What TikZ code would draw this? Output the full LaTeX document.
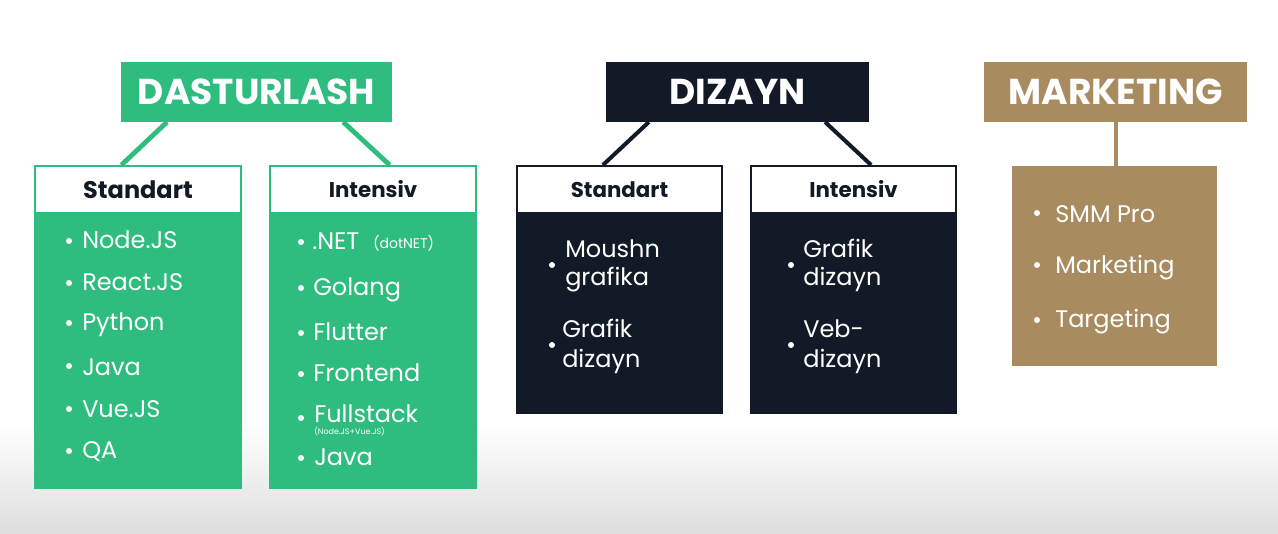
\documentclass[tikz,border=0pt]{standalone}
\usepackage{fontspec}
\setmainfont{Poppins}
\usetikzlibrary{calc,fit}
\definecolor{grn}{HTML}{2EBD7F}
\definecolor{nav}{HTML}{111A26}
\definecolor{gld}{HTML}{A88B5E}
\begin{document}
\begin{tikzpicture}[x=0.75pt,y=-0.75pt,
  box/.style={rectangle, inner sep=0pt, outer sep=0pt},
  item/.style={anchor=base west, inner sep=0pt, text=white, font=\fontsize{18}{20}\selectfont},
  small/.style={anchor=base west, inner sep=0pt, text=white, font=\fontsize{10.5}{11}\selectfont},
  tiny/.style={anchor=base west, inner sep=0pt, text=white, font=\fontsize{6}{6.5}\selectfont},
  bul/.style={circle, fill=white, inner sep=0pt, minimum size=4.5pt},
  hdr/.style={font=\fontsize{18}{20}\selectfont\bfseries, text=nav, inner sep=0pt},
  dhdr/.style={font=\fontsize{16}{18}\selectfont\bfseries, text=nav, inner sep=0pt},
  ttl/.style={font=\fontsize{27}{29}\selectfont\bfseries, text=white, inner sep=0pt},
  gline/.style={grn, line width=3.6pt},
  nline/.style={nav, line width=3pt},
  mline/.style={gld, line width=3pt},
]
\useasboundingbox (0,0) rectangle (1278,533);
\fill[white] (0,0) rectangle (1278,533);
\shade[top color=white, bottom color=black!13] (0,425) rectangle (1278,533);

% ---------- DASTURLASH ----------
\node[box, fill=grn, fit={(121,62)(392,122)}] (dast) {};
\node[ttl] (dastT) at (dast.center) {DASTURLASH};
\node[box, fill=grn, fit={(34,165)(242,489)}] (gs) {};
\node[box, fill=grn, fit={(269,165)(477,489)}] (gi) {};
\draw[gline] ($(dast.south west)!0.17!(dast.south east)$) -- ($(gs.north west)!0.42!(gs.north east)$);
\draw[gline] ($(dast.south west)!0.82!(dast.south east)$) -- ($(gi.north west)!0.58!(gi.north east)$);
\node[box, fill=white, draw=grn, line width=2pt, fit={(35,166)(241,213)}] (gsh) {};
\node[box, fill=white, draw=grn, line width=2pt, fit={(270,166)(476,213)}] (gih) {};
\node[hdr] (gshT) at (gsh.center) {Standart};
\node[dhdr] (gihT) at (gih.center) {Intensiv};

\node[bul] (gb1) at (69,241) {}; \node[item] (gt1) at (82,248) {Node.JS};
\node[bul] (gb2) at (69,283) {}; \node[item] (gt2) at (82,290) {React.JS};
\node[bul] (gb3) at (69,323) {}; \node[item] (gt3) at (82,330) {Python};
\node[bul] (gb4) at (69,366) {}; \node[item] (gt4) at (82,375) {Java};
\node[bul] (gb5) at (69,409) {}; \node[item] (gt5) at (82,417) {Vue.JS};
\node[bul] (gb6) at (69,451) {}; \node[item] (gt6) at (82,458) {QA};

\node[bul] (ib1) at (301,242) {}; \node[item] (it1) at (312,249) {.NET};
\node[small] (it1s) at (373,248) {(dotNET)};
\node[bul] (ib2) at (301,288) {}; \node[item] (it2) at (313,295) {Golang};
\node[bul] (ib3) at (301,333) {}; \node[item] (it3) at (313,340) {Flutter};
\node[bul] (ib4) at (301,374) {}; \node[item] (it4) at (313,381) {Frontend};
\node[bul] (ib5) at (301,418) {}; \node[item] (it5) at (314,422) {Fullstack};
\node[tiny] (it5s) at (314,434) {(Node.JS+Vue.JS)};
\node[bul] (ib6) at (301,458) {}; \node[item] (it6) at (314,465) {Java};

% ---------- DIZAYN ----------
\node[box, fill=nav, fit={(606,62)(869,122)}] (diz) {};
\node[ttl] (dizT) at (diz.center) {DIZAYN};
\node[box, fill=nav, fit={(516,165)(723,414)}] (ds) {};
\node[box, fill=nav, fit={(750,165)(957,414)}] (di) {};
\draw[nline] ($(diz.south west)!0.163!(diz.south east)$) -- ($(ds.north west)!0.42!(ds.north east)$);
\draw[nline] ($(diz.south west)!0.833!(diz.south east)$) -- ($(di.north west)!0.585!(di.north east)$);
\node[box, fill=white, draw=nav, line width=2pt, fit={(517,166)(722,213)}] (dsh) {};
\node[box, fill=white, draw=nav, line width=2pt, fit={(751,166)(956,213)}] (dih) {};
\node[dhdr] (dshT) at (dsh.center) {Standart};
\node[dhdr] (dihT) at (dih.center) {Intensiv};

\node[bul] (db1) at (552,265) {};
\node[item] (dt1a) at (565,257) {Moushn};
\node[item] (dt1b) at (565,285) {grafika};
\node[bul] (db2) at (552,345) {};
\node[item] (dt2a) at (562,337) {Grafik};
\node[item] (dt2b) at (562,367) {dizayn};

\node[bul] (eb1) at (791,265) {};
\node[item] (et1a) at (803,257) {Grafik};
\node[item] (et1b) at (803,285) {dizayn};
\node[bul] (eb2) at (791,345) {};
\node[item] (et2a) at (803,337) {Veb-};
\node[item] (et2b) at (803,367) {dizayn};

% ---------- MARKETING ----------
\node[box, fill=gld, fit={(984,62)(1247,122)}] (mk) {};
\node[ttl] (mkT) at (mk.center) {MARKETING};
\node[box, fill=gld, fit={(1012,166)(1217,366)}] (mc) {};
\draw[mline] (mk.south) -- (mk.south |- mc.north);
\node[bul] (mb1) at (1037,213) {}; \node[item] (mt1) at (1055,222) {SMM Pro};
\node[bul] (mb2) at (1037,265) {}; \node[item] (mt2) at (1055,273) {Marketing};
\node[bul] (mb3) at (1037,320) {}; \node[item] (mt3) at (1055,327) {Targeting};
\end{tikzpicture}
\end{document}
